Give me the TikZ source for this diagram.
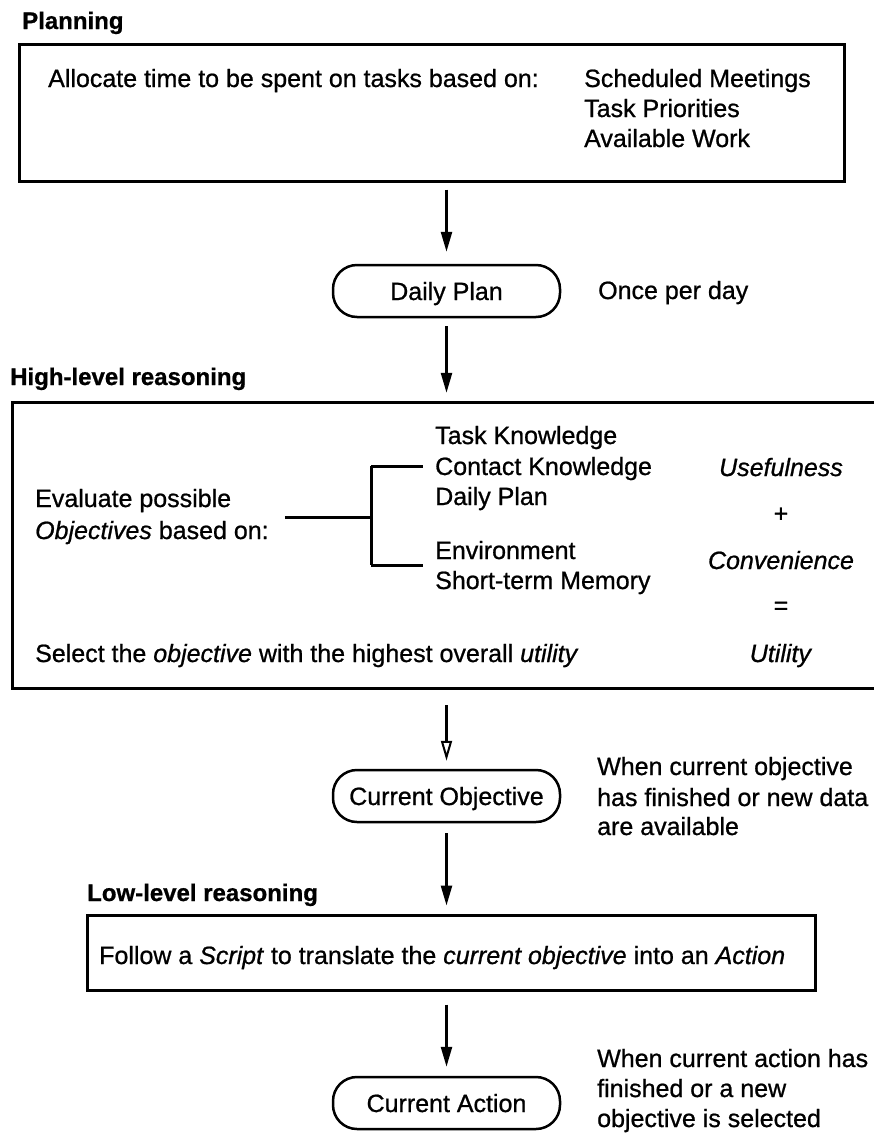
\documentclass[tikz,border=0pt]{standalone}
\usepackage{fontspec}
\setmainfont{Liberation Sans}[RawFeature={embolden=0.8}]
\usetikzlibrary{arrows.meta,calc}
\begin{document}
\begin{tikzpicture}[x=1pt,y=-1pt,
  txt/.style={font=\fontsize{25}{30}\selectfont, inner sep=0pt, text height=18pt, text depth=0pt, anchor=west},
  ctxt/.style={txt, anchor=center},
  head/.style={txt, font=\fontsize{24}{29}\selectfont\bfseries},
  frame/.style={draw, line width=3pt, inner sep=0pt},
  rbox/.style={draw, line width=2.5pt, rounded corners=24pt, minimum width=227pt, minimum height=52pt,
    inner sep=0pt, text height=18pt, text depth=0pt, font=\fontsize{25}{30}\selectfont},
  arr/.style={line width=2.5pt, -{Triangle[width=11pt,length=20pt]}},
  openarr/.style={line width=2.5pt, -{Triangle[open,width=11pt,length=20pt,line width=2pt]}},
  brace/.style={line width=3pt},
]
\useasboundingbox[fill=white] (0,0) rectangle (874,1138);

% ---------- Planning ----------
\node[head] (planlbl) at (22,20) {Planning};
\node[frame, minimum width=825pt, minimum height=137pt] (planbox) at (432,112.5) {};
\node[txt] (alloc) at (48,78) {Allocate time to be spent on tasks based on:};
\node[txt] (sm) at (584,78) {Scheduled Meetings};
\node[txt] (tp) at (584,108) {Task Priorities};
\node[txt] (aw) at (584,138) {Available Work};

\node[rbox] (dp) at (446.5,291) {Daily Plan};
\node[txt] (once) at (598,290) {Once per day};

% ---------- High-level reasoning ----------
\node[head] (hllbl) at (10,376) {High-level reasoning};
\node[minimum width=861pt, minimum height=285pt, inner sep=0pt] (hlbox) at (443.5,545.5) {};
\draw[line width=3pt] (hlbox.north east) -- (hlbox.north west) -- (hlbox.south west) -- (hlbox.south east);

\node[txt] (ev1) at (35,498) {Evaluate possible};
\node[txt] (ev2) at (35,530) {\textit{Objectives} based on:};

\node[txt] (k1) at (435,435) {Task Knowledge};
\node[txt] (k2) at (435,466) {Contact Knowledge};
\node[txt] (k3) at (435,496) {Daily Plan};
\node[txt] (k4) at (435,550) {Environment};
\node[txt] (k5) at (435,580) {Short-term Memory};

% bracket joining the sources of knowledge
\coordinate (bj) at (371,517);
\coordinate (bb) at ($(k4.west)!0.5!(k5.west)$);
\draw[brace] ([xshift=16pt]ev2.east |- bj) -- (bj);
\draw[brace] (bj |- k2.west) -- (bj |- bb);
\draw[brace] (bj |- k2.west) -- ([xshift=-12pt]k2.west);
\draw[brace] (bj |- bb) -- ([xshift=-12pt]bb);

\node[ctxt] (use) at (781,467) {\textit{Usefulness}};
\node[ctxt] (plus) at (781,513) {+};
\node[ctxt] (conv) at (781,560) {\textit{Convenience}};
\node[ctxt] (eq) at (781,605) {=};
\node[ctxt] (util) at (781,653) {\textit{Utility}};

\node[txt] (sel) at (35,653) {Select the \textit{objective} with the highest overall \textit{utility}};

\node[rbox] (co) at (446.5,796) {Current Objective};
\node[txt] (w1) at (597,766) {When current objective};
\node[txt] (w2) at (597,797) {has finished or new data};
\node[txt] (w3) at (597,826) {are available};

% ---------- Low-level reasoning ----------
\node[head] (lllbl) at (87,892) {Low-level reasoning};
\node[frame, minimum width=728pt, minimum height=75pt] (llbox) at (451,952.5) {};
\node[txt] (follow) at (99,955) {Follow a \textit{Script} to translate the \textit{current objective} into an \textit{Action}};

\node[rbox] (ca) at (446.5,1103) {Current Action};
\node[txt] (a1) at (597,1058) {When current action has};
\node[txt] (a2) at (597,1088) {finished or a new};
\node[txt] (a3) at (597,1118) {objective is selected};

% ---------- Flow ----------
\draw[arr] ([yshift=-7pt]planbox.south -| dp.north) -- ([yshift=12pt]dp.north);
\draw[arr] ([yshift=-8pt]dp.south) -- ([yshift=10pt]hlbox.north -| dp.north);
\draw[openarr] ([yshift=-17pt]hlbox.south -| co.north) -- ([yshift=8pt]co.north);
\draw[arr] ([yshift=-10pt]co.south) -- ([yshift=8pt]llbox.north -| co.north);
\draw[arr] ([yshift=-13pt]llbox.south -| ca.north) -- ([yshift=9pt]ca.north);
\end{tikzpicture}
\end{document}
